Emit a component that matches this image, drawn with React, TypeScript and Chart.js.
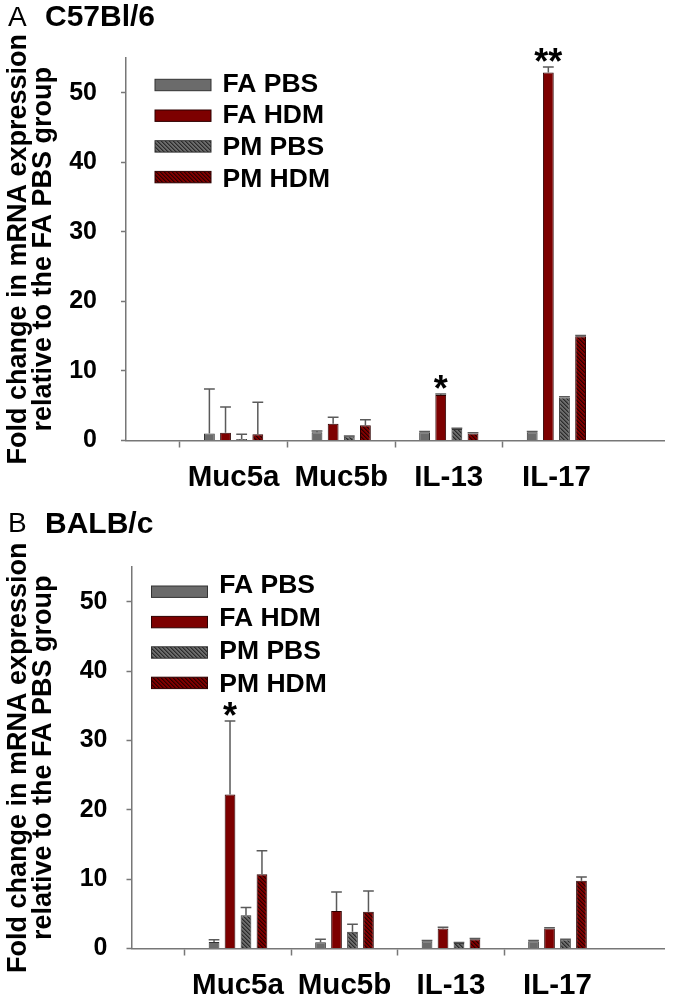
import React, { useEffect, useRef } from 'react';
import { Chart, registerables } from 'chart.js';

Chart.register(...registerables);

const FAMILY = "'Liberation Sans', Arial, Helvetica, sans-serif";

// ---------- data ----------
const categories = ['Muc5a', 'Muc5b', 'IL-13', 'IL-17'];
const seriesNames = ['FA PBS', 'FA HDM', 'PM PBS', 'PM HDM'];
const yTicks = [0, 10, 20, 30, 40, 50];
const yTitle = ['Fold change in mRNA expression', 'relative to the FA PBS group'];

// Panel A: C57Bl/6
const c57FaPbs = [1.0, 1.2, 1.2, 1.2];
const c57FaHdm = [1.1, 2.4, 6.55, 52.9];
const c57PmPbs = [0.2, 0.6, 1.65, 6.2];
const c57PmHdm = [0.9, 2.2, 1.0, 15.0];
const c57FaPbsErr = [6.4, 0.15, 0.1, 0.1];
const c57FaHdmErr = [3.7, 0.95, 0.15, 0.8];
const c57PmPbsErr = [0.7, 0.05, 0.1, 0.1];
const c57PmHdmErr = [4.6, 0.8, 0.1, 0.1];
const c57Stars = ['', '', '*', '**']; // above FA HDM

// Panel B: BALB/c
const balbFaPbs = [0.95, 0.9, 1.05, 1.05];
const balbFaHdm = [22.2, 5.4, 2.9, 2.9];
const balbPmPbs = [4.8, 2.4, 0.8, 1.3];
const balbPmHdm = [10.7, 5.3, 1.35, 9.75];
const balbFaPbsErr = [0.3, 0.45, 0.1, 0.1];
const balbFaHdmErr = [10.6, 2.75, 0.15, 0.1];
const balbPmPbsErr = [1.1, 1.1, 0.05, 0.05];
const balbPmHdmErr = [3.4, 3.0, 0.1, 0.55];
const balbStars = ['*', '', '', '']; // above FA HDM

// ---------- styles ----------
const AXIS = '#777777';
const ERR = '#5a5a5a';
const FILL_GRAY = '#6b6b6b';
const FILL_RED = '#7d0000';
const BORDER_GRAY = '#333333';
const BORDER_RED = '#2e0000';

type Layout = {
  padTop: number; padRight: number; yWidth: number; xHeight: number; yPad: number;
  letterBase: number; strainBase: number;
  swX: number; swY0: number; swDy: number; txtX: number; txtY0: number; txtDy: number;
};

type Spec = {
  letter: string; strain: string;
  values: number[][]; errors: number[][]; stars: string[];
  L: Layout;
};

const panelA: Spec = {
  letter: 'A', strain: 'C57Bl/6',
  values: [c57FaPbs, c57FaHdm, c57PmPbs, c57PmHdm],
  errors: [c57FaPbsErr, c57FaHdmErr, c57PmPbsErr, c57PmHdmErr],
  stars: c57Stars,
  L: { padTop: 58, padRight: 4, yWidth: 126, xHeight: 60.5, yPad: 24,
    letterBase: 26, strainBase: 25.5,
    swX: 155, swY0: 85, swDy: 30.7, txtX: 222.5, txtY0: 91.7, txtDy: 31.7 },
};

const panelB: Spec = {
  letter: 'B', strain: 'BALB/c',
  values: [balbFaPbs, balbFaHdm, balbPmPbs, balbPmHdm],
  errors: [balbFaPbsErr, balbFaHdmErr, balbPmPbsErr, balbPmHdmErr],
  stars: balbStars,
  L: { padTop: 66, padRight: 2, yWidth: 131.5, xHeight: 53.5, yPad: 19,
    letterBase: 30.7, strainBase: 32,
    swX: 151.5, swY0: 90.7, swDy: 30.4, txtX: 219.3, txtY0: 92.3, txtDy: 32.8 },
};

function makeHatch(ctx: CanvasRenderingContext2D, base: string, mid: string, line: string) {
  const c = document.createElement('canvas');
  c.width = 4; c.height = 4;
  const g = c.getContext('2d')!;
  for (let y = 0; y < 4; y++) {
    for (let x = 0; x < 4; x++) {
      const d = (((x - y) % 4) + 4) % 4;
      g.fillStyle = d === 0 ? line : d === 1 ? mid : base;
      g.fillRect(x, y, 1, 1);
    }
  }
  return ctx.createPattern(c, 'repeat')!;
}

function Panel({ spec }: { spec: Spec }) {
  const ref = useRef<HTMLCanvasElement | null>(null);
  useEffect(() => {
    const canvas = ref.current!;
    const ctx0 = canvas.getContext('2d')!;
    const L = spec.L;
    const hatchGray = makeHatch(ctx0, '#6b6b6b', '#4b4b4b', '#2a2a2a');
    const hatchRed = makeHatch(ctx0, '#800000', '#560000', '#2a0000');
    const fills: any[] = [FILL_GRAY, FILL_RED, hatchGray, hatchRed];
    const borders = [BORDER_GRAY, BORDER_RED, BORDER_GRAY, BORDER_RED];
    const labels = ['', ...categories, ''];

    const deco = {
      id: 'deco',
      afterDatasetsDraw(chart: any) {
        const ctx = chart.ctx as CanvasRenderingContext2D;
        const ys = chart.scales.y;
        ctx.save();
        ctx.strokeStyle = ERR;
        ctx.lineWidth = 1.5;
        spec.values.forEach((vals, di) => {
          const meta = chart.getDatasetMeta(di);
          vals.forEach((v, j) => {
            const el = meta.data[j + 1];
            if (!el) return;
            const e = spec.errors[di][j];
            const yTop = ys.getPixelForValue(v + e);
            const x = el.x;
            const w = el.width;
            ctx.beginPath();
            ctx.moveTo(x, el.y);
            ctx.lineTo(x, yTop);
            ctx.moveTo(x - w / 2, yTop);
            ctx.lineTo(x + w / 2, yTop);
            ctx.stroke();
          });
        });
        // significance stars above FA HDM
        ctx.fillStyle = '#000';
        ctx.font = `bold 36px ${FAMILY}`;
        ctx.textAlign = 'center';
        ctx.textBaseline = 'alphabetic';
        const meta = chart.getDatasetMeta(1);
        spec.stars.forEach((s, j) => {
          if (!s) return;
          const el = meta.data[j + 1];
          const yTop = ys.getPixelForValue(spec.values[1][j] + spec.errors[1][j]);
          ctx.fillText(s, el.x, yTop + 7);
        });
        ctx.restore();
      },
      afterDraw(chart: any) {
        const ctx = chart.ctx as CanvasRenderingContext2D;
        ctx.save();
        ctx.fillStyle = '#000';
        ctx.textAlign = 'left';
        ctx.textBaseline = 'alphabetic';
        ctx.font = `28px ${FAMILY}`;
        ctx.fillText(spec.letter, 8, L.letterBase);
        ctx.font = `bold 30px ${FAMILY}`;
        ctx.fillText(spec.strain, 45, L.strainBase);
        // legend
        seriesNames.forEach((name, i) => {
          const cy = L.swY0 + i * L.swDy;
          ctx.fillStyle = fills[i];
          ctx.fillRect(L.swX, cy - 5.7, 56, 11.4);
          ctx.strokeStyle = borders[i];
          ctx.lineWidth = 1;
          ctx.strokeRect(L.swX, cy - 5.7, 56, 11.4);
          ctx.fillStyle = '#000';
          ctx.font = `bold 26.5px ${FAMILY}`;
          ctx.fillText(name, L.txtX, L.txtY0 + i * L.txtDy);
        });
        ctx.restore();
      },
    };

    const chart = new Chart(canvas, {
      type: 'bar',
      data: {
        labels,
        datasets: seriesNames.map((name, i) => ({
          label: name,
          data: [null, ...spec.values[i], null],
          backgroundColor: fills[i],
          borderColor: borders[i],
          borderWidth: 1,
          categoryPercentage: 0.6,
          barPercentage: 0.67,
        })),
      },
      options: {
        responsive: false,
        animation: false,
        devicePixelRatio: 1,
        layout: { padding: { top: L.padTop, right: L.padRight, left: 0, bottom: 0 } },
        plugins: { legend: { display: false }, tooltip: { enabled: false }, title: { display: false } },
        scales: {
          x: {
            type: 'category',
            offset: false,
            grid: {
              drawOnChartArea: false,
              drawTicks: true,
              tickLength: 7,
              tickWidth: 1.5,
              color: 'rgba(0,0,0,0)',
              tickColor: (c: any) => (c.index === 0 || c.index === labels.length - 1 ? 'rgba(0,0,0,0)' : AXIS),
            },
            border: { display: true, color: AXIS, width: 1.5 },
            ticks: {
              font: { family: FAMILY, size: 29.5, weight: 'bold' },
              color: '#000',
              padding: 13,
              maxRotation: 0,
              autoSkip: false,
            },
            afterFit: (s: any) => { s.height = L.xHeight; },
          },
          y: {
            min: 0,
            max: 55,
            afterBuildTicks: (s: any) => { s.ticks = yTicks.map((v) => ({ value: v })); },
            grid: { drawOnChartArea: false, drawTicks: true, tickLength: 5, tickWidth: 1.5, tickColor: AXIS, color: 'rgba(0,0,0,0)' },
            border: { display: true, color: AXIS, width: 1.5 },
            ticks: { font: { family: FAMILY, size: 25, weight: 'bold' }, color: '#000', padding: L.yPad },
            title: {
              display: true,
              text: yTitle,
              color: '#000',
              font: { family: FAMILY, size: 27, weight: 'bold', lineHeight: '25px' },
              padding: { top: 6.5, bottom: 0 },
            },
            afterFit: (s: any) => { s.width = L.yWidth; },
          },
        },
      } as any,
      plugins: [deco],
    });
    return () => chart.destroy();
  }, [spec]);
  return <canvas ref={ref} width={677} height={501} style={{ display: 'block', width: 677, height: 501 }} />;
}

export default function App() {
  return (
    <div style={{ position: 'absolute', left: 0, top: 0, width: 677, height: 1002, background: '#fff' }}>
      <Panel spec={panelA} />
      <Panel spec={panelB} />
    </div>
  );
}
